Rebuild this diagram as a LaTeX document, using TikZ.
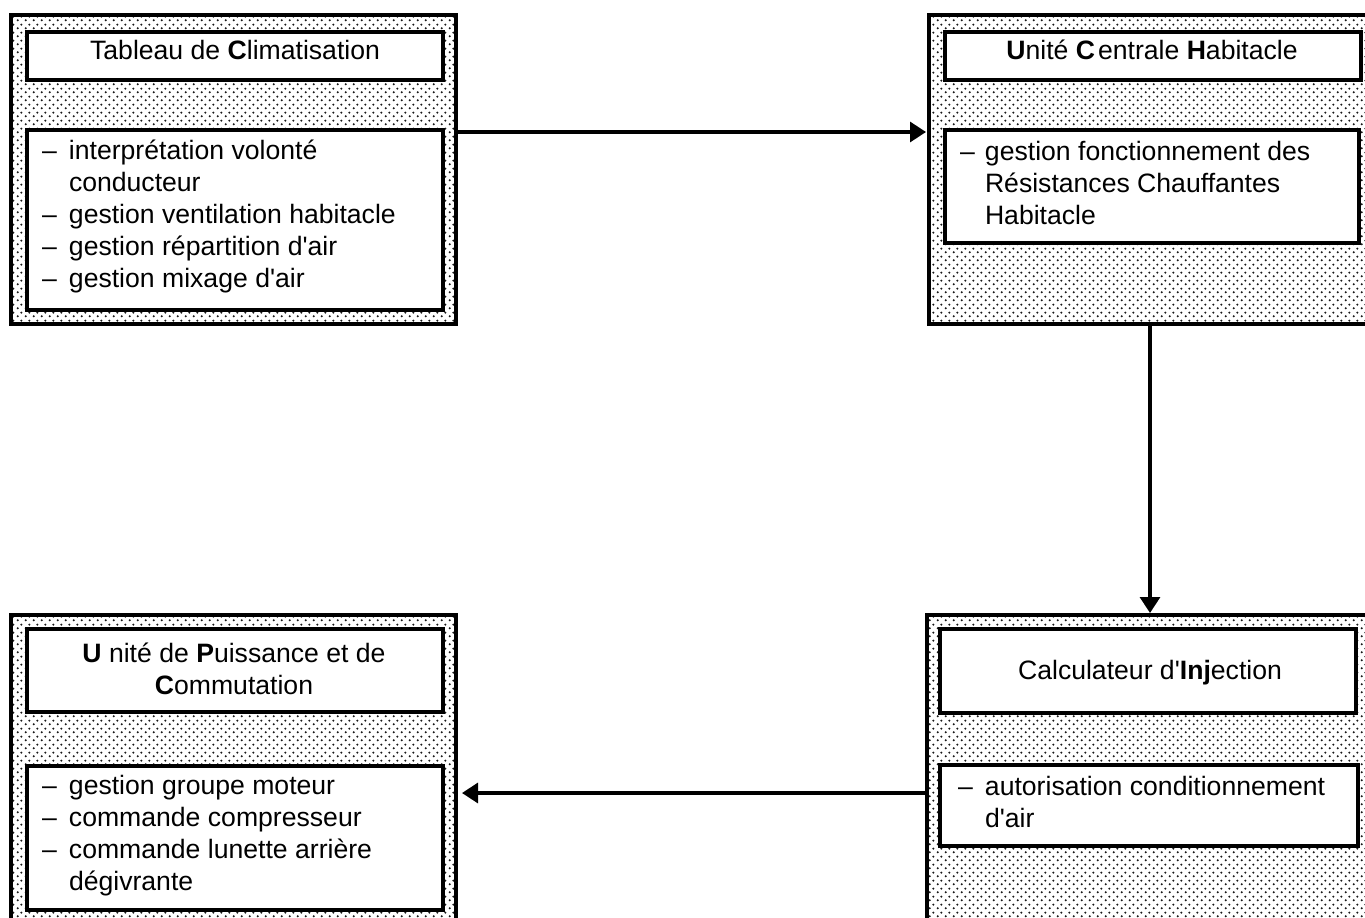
\documentclass[tikz,border=0pt]{standalone}
\usepackage{fontspec}
\setmainfont{Liberation Sans}
\usetikzlibrary{patterns,arrows.meta}
\pgfdeclarepatternformonly{mydots}{\pgfqpoint{0pt}{0pt}}{\pgfqpoint{8pt}{8pt}}{\pgfqpoint{8pt}{8pt}}{%
  \pgfpathcircle{\pgfqpoint{2pt}{2pt}}{1.25pt}%
  \pgfpathcircle{\pgfqpoint{6pt}{6pt}}{1.25pt}%
  \pgfusepath{fill}}
\newcommand\apos{{\XeTeXglyph\XeTeXcharglyph"27\relax}}
\newcommand\itm[1]{\makebox[27pt][l]{–}#1}
\newcommand\cnt[1]{\hspace*{27pt}#1}
\begin{document}
\begin{tikzpicture}[x=1pt,y=-1pt,
  outer/.style={draw, line width=3.1pt, pattern=mydots, pattern color=black!90, anchor=north west, inner sep=0pt, outer sep=0pt},
  innerbox/.style={draw, line width=3.1pt, fill=white, anchor=north west, inner sep=0pt, outer sep=0pt},
  txt/.style={font=\fontsize{26.6pt}{32pt}\selectfont, inner sep=0pt, outer sep=0pt},
  conn/.style={line width=3.2pt, -{Triangle[length=16pt,width=20pt]}}]
\clip (0,0) rectangle (1365,918);
\fill[white] (0,0) rectangle (1365,918);
% outer boxes
\node[outer, minimum width=445pt, minimum height=309pt] (b1) at (11,15) {};
\node[outer, minimum width=449pt, minimum height=309pt] (b2) at (929,15) {};
\node[outer, minimum width=445pt, minimum height=310pt] (b3) at (11,615) {};
\node[outer, minimum width=451pt, minimum height=310pt] (b4) at (927,615) {};
% title boxes
\node[innerbox, minimum width=416pt, minimum height=48pt] (h1) at (27,32) {};
\node[innerbox, minimum width=416pt, minimum height=48pt] (h2) at (945,32) {};
\node[innerbox, minimum width=416pt, minimum height=83pt] (h3) at (27,629) {};
\node[innerbox, minimum width=416pt, minimum height=84pt] (h4) at (940,629) {};
% list boxes
\node[innerbox, minimum width=416pt, minimum height=180pt] (l1) at (27,130) {};
\node[innerbox, minimum width=414pt, minimum height=113pt] (l2) at (945,130) {};
\node[innerbox, minimum width=416pt, minimum height=144pt] (l3) at (27,766) {};
\node[innerbox, minimum width=418pt, minimum height=81pt] (l4) at (940,765) {};
% titles
\node[txt, anchor=base] (t1) at (235,59) {Tableau de \textbf{C}limatisation};
\node[txt, anchor=base] (t2) at (1152,59) {\textbf{U}nité \textbf{C}\hspace{3pt}entrale \textbf{H}abitacle};
\node[txt, anchor=base, align=center] (t3) at (234,694) {\textbf{U} nité de \textbf{P}uissance et de\\\textbf{C}ommutation};
\node[txt, anchor=base] (t4) at (1150,679) {Calculateur d\apos\textbf{Inj}ection};
% lists (base anchor = last line's baseline)
\node[txt, anchor=base west, align=left] (x1) at (42,287) {\itm{interprétation volonté}\\\cnt{conducteur}\\\itm{gestion ventilation habitacle}\\\itm{gestion répartition d\apos air}\\\itm{gestion mixage d\apos air}};
\node[txt, anchor=base west, align=left] (x2) at (960,224) {\makebox[25pt][l]{–}gestion fonctionnement des\\\hspace*{25pt}Résistances Chauffantes\\\hspace*{25pt}Habitacle};
\node[txt, anchor=base west, align=left] (x3) at (42,890) {\itm{gestion groupe moteur}\\\itm{commande compresseur}\\\itm{commande lunette arrière}\\\cnt{dégivrante}};
\node[txt, anchor=base west, align=left] (x4) at (958,827) {\itm{autorisation conditionnement}\\\cnt{d\apos air}};
% connectors
\coordinate (a1) at (0,132);
\coordinate (a2) at (1150,0);
\coordinate (a3) at (0,793);
\draw[conn, shorten >=3pt] (b1.east |- a1) -- (b2.west |- a1);
\draw[conn, shorten >=2pt] (b2.south -| a2) -- (b4.north -| a2);
\draw[conn, shorten >=6pt] (b4.west |- a3) -- (b3.east |- a3);
\end{tikzpicture}
\end{document}
